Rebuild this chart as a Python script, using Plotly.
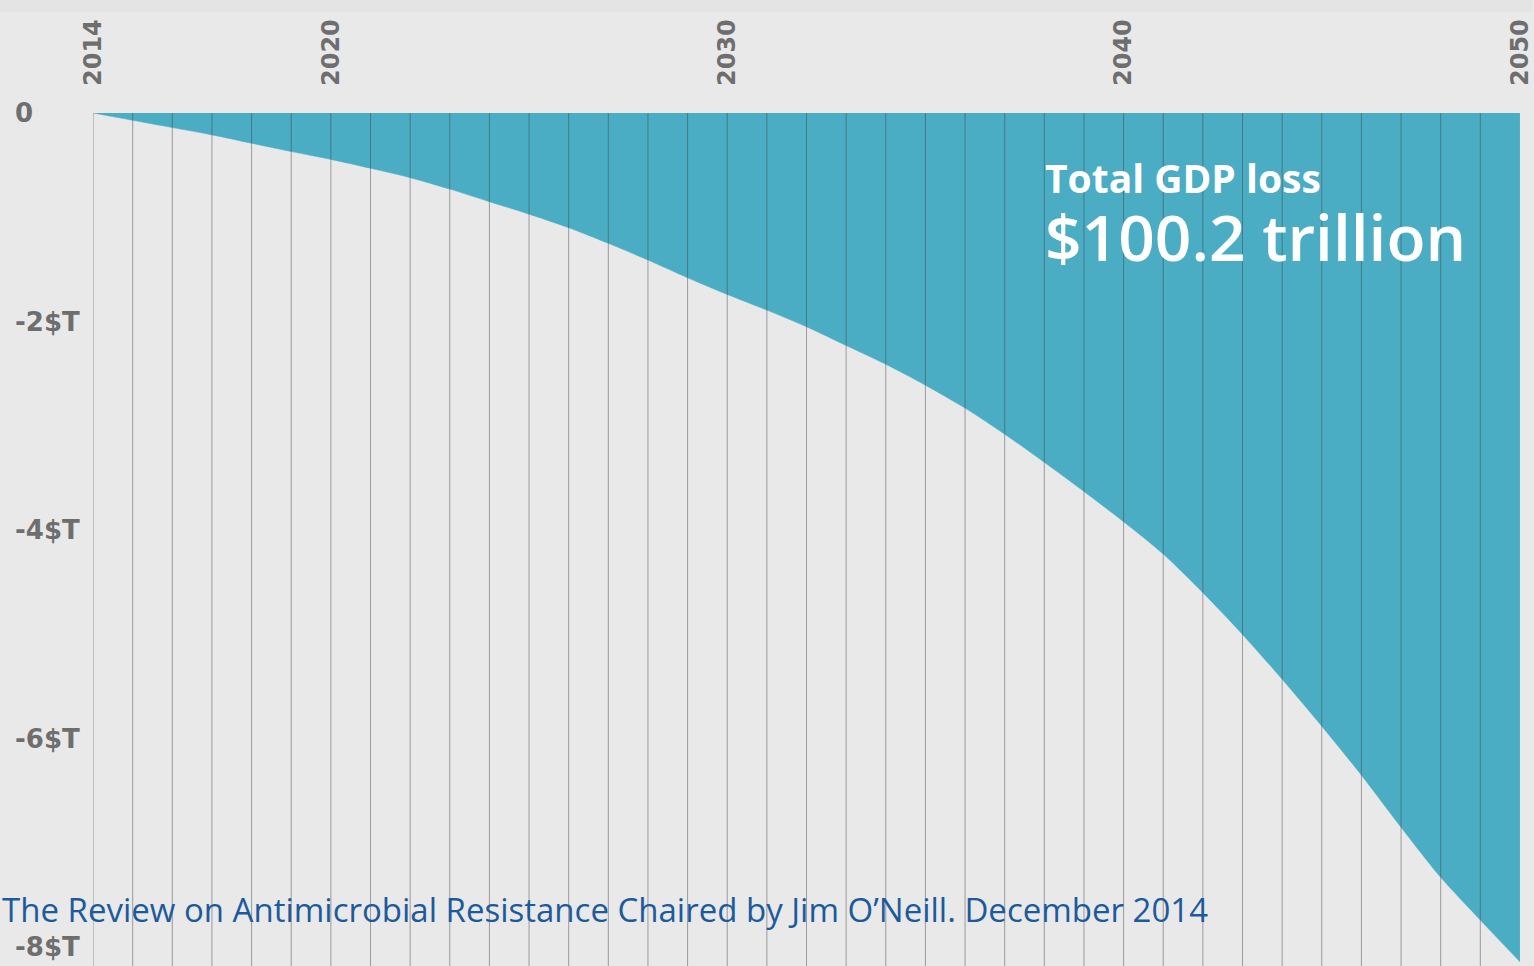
import plotly.graph_objects as go

# Projected annual GDP loss from antimicrobial resistance (trillions of US$)
years = list(range(2014, 2051))
gdp_loss = [
    0.0, 0.07, 0.14, 0.21, 0.29, 0.37, 0.445, 0.53, 0.62, 0.73,
    0.85, 0.97, 1.10, 1.25, 1.41, 1.58, 1.74, 1.89, 2.05, 2.23,
    2.41, 2.61, 2.83, 3.08, 3.35, 3.63, 3.92, 4.23, 4.60, 5.00,
    5.43, 5.88, 6.35, 6.85, 7.33, 7.74, 8.14,
]
x_tick_years = [2014, 2020, 2030, 2040, 2050]
y_tick_values = [0, -2, -4, -6, -8]
y_tick_labels = ["0", "-2$T", "-4$T", "-6$T", "-8$T"]

headline = "Total GDP loss"
total_text = "$100.2 trillion"
source_text = "The Review on Antimicrobial Resistance Chaired by Jim O\u2019Neill. December 2014"

BG = "#e9e9e9"
TEAL = "#4badc3"
LABEL_GREY = "#6e6e6e"

W, H = 1534, 966
M_L, M_R, M_T, M_B = 93, 12, 113, 0
plot_w = W - M_L - M_R
plot_h = H - M_T - M_B


def px_to_paper_x(px):
    return (px - M_L) / plot_w


def px_to_paper_y(py):
    return (H - M_B - py) / plot_h


fig = go.Figure()

fig.add_trace(go.Scatter(
    x=years,
    y=[-v for v in gdp_loss],
    mode="lines",
    line=dict(color=TEAL, width=0.5, shape="spline", smoothing=0.8),
    fill="tozeroy",
    fillcolor=TEAL,
    hoverinfo="skip",
    showlegend=False,
))

# one thin vertical rule per year, drawn over the filled area
for yr in years[:-1]:
    fig.add_shape(
        type="line", xref="x", yref="paper",
        x0=yr, x1=yr, y0=0, y1=1,
        line=dict(color="rgba(60,60,60,0.45)", width=1),
        layer="above",
    )

# faint band along the very top of the page
fig.add_shape(
    type="rect", xref="paper", yref="paper",
    x0=px_to_paper_x(0), x1=px_to_paper_x(W),
    y0=px_to_paper_y(12), y1=px_to_paper_y(0),
    fillcolor="#e4e4e4", line=dict(width=0), layer="below",
)

# left-aligned value labels on the y axis
for val, lab in zip(y_tick_values, y_tick_labels):
    fig.add_annotation(
        xref="paper", yref="y",
        x=px_to_paper_x(13), y=val,
        xanchor="left", yanchor="middle",
        text=lab, showarrow=False,
        font=dict(family="DejaVu Sans", size=26, color=LABEL_GREY, weight="bold"),
    )

# headline and total, set as one two-line block
fig.add_annotation(
    xref="paper", yref="paper",
    x=px_to_paper_x(1044), y=px_to_paper_y(215),
    xanchor="left", yanchor="middle", align="left",
    text=(
        f"<span style='font-size:39px;font-weight:bold'>{headline}</span><br>"
        f"<span style='font-size:64px;font-weight:600'>{total_text}</span>"
    ),
    showarrow=False,
    font=dict(family="Open Sans", size=52, color="white"),
)
fig.add_annotation(
    xref="paper", yref="paper",
    x=px_to_paper_x(0), y=px_to_paper_y(909),
    xanchor="left", yanchor="middle",
    text=source_text, showarrow=False,
    font=dict(family="Open Sans", size=33, color="#1c5a9c"),
)

fig.update_xaxes(
    range=[years[0] - 0.001, years[-1] + 0.001],
    side="top",
    tickmode="array",
    tickvals=x_tick_years,
    ticktext=[str(y) for y in x_tick_years],
    tickangle=-90,
    ticks="",
    ticklabelstandoff=26,
    ticklabeloverflow="allow",
    tickfont=dict(family="DejaVu Sans", size=24, color=LABEL_GREY, weight="bold"),
    showgrid=False,
    zeroline=False,
    showline=False,
    fixedrange=True,
)
fig.update_yaxes(
    range=[-8.18, 0],
    showticklabels=False,
    ticks="",
    showgrid=False,
    zeroline=False,
    showline=False,
    fixedrange=True,
)

fig.update_layout(
    width=W, height=H,
    margin=dict(l=M_L, r=M_R, t=M_T, b=M_B, pad=0),
    paper_bgcolor=BG,
    plot_bgcolor=BG,
    showlegend=False,
)

fig.write_html("out.html", config={"displayModeBar": False})
